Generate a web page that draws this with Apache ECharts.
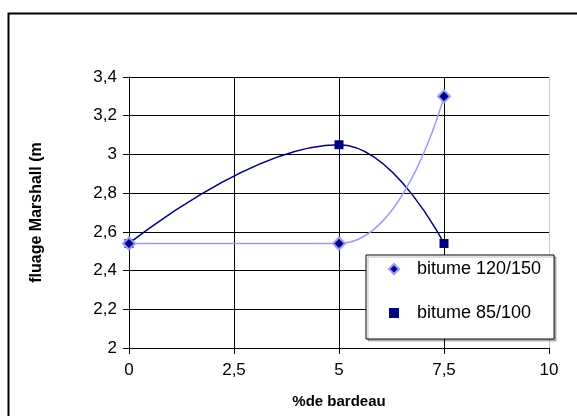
<!DOCTYPE html>
<html>
<head>
<meta charset="utf-8">
<script src="https://cdn.jsdelivr.net/npm/echarts@6/dist/echarts.min.js"></script>
<style>
  html, body { margin: 0; padding: 0; background: #fff; }
  #main { width: 577px; height: 416px; }
</style>
</head>
<body>
<div id="main"></div>
<script>
  // données
  var pctBardeau = [0, 5, 7.5];
  var bitume120 = [2.54, 2.54, 3.3];
  var bitume85 = [2.54, 3.05, 2.54];
  var xTicks = [0, 2.5, 5, 7.5, 10];
  var yTicks = [2, 2.2, 2.4, 2.6, 2.8, 3, 3.2, 3.4];

  function pairs(xs, ys) {
    return xs.map(function (x, i) { return [x, ys[i]]; });
  }
  function virgule(v) {
    return String(v).replace('.', ',');
  }

  var myChart = echarts.init(document.getElementById('main'));

  var option = {
    animation: false,
    backgroundColor: '#fff',
    textStyle: { fontFamily: 'Liberation Sans, Arial, sans-serif' },
    graphic: [
      // cadre de la zone du graphique
      {
        type: 'rect',
        shape: { x: 8.5, y: 13.5, width: 600, height: 500 },
        style: { fill: 'none', stroke: '#000', lineWidth: 2 },
        z: -1
      }
    ],
    grid: { left: 129, right: 28, top: 77, bottom: 68 },
    legend: {
      orient: 'vertical',
      left: 366,
      top: 255,
      padding: [5, 13, 17, 22],
      itemGap: 26,
      itemWidth: 10,
      itemHeight: 10,
      backgroundColor: '#fff',
      borderColor: '#000',
      borderWidth: 1,
      shadowColor: 'rgba(0,0,0,0.25)',
      shadowOffsetX: 2,
      shadowOffsetY: 2,
      textStyle: { fontSize: 18, color: '#000', padding: [0, 0, 0, 13] },
      data: [
        { name: 'bitume 120/150', icon: 'diamond' },
        { name: 'bitume 85/100', icon: 'rect' }
      ]
    },
    xAxis: {
      type: 'value',
      min: xTicks[0],
      max: xTicks[xTicks.length - 1],
      interval: 2.5,
      name: '%de bardeau',
      nameLocation: 'middle',
      nameGap: 46,
      nameTextStyle: { fontSize: 15, fontWeight: 'bold', color: '#000' },
      axisLine: { lineStyle: { color: '#000', width: 1 } },
      axisTick: { show: true, inside: false, length: 6, lineStyle: { color: '#000' } },
      axisLabel: { fontSize: 17, color: '#000', margin: 14, formatter: virgule },
      splitLine: { show: true, lineStyle: { color: ['#000', '#000', '#000', '#000', '#c8c8c8'], width: 1 } }
    },
    yAxis: {
      type: 'value',
      min: yTicks[0],
      max: yTicks[yTicks.length - 1],
      interval: 0.2,
      name: 'fluage Marshall (m',
      nameLocation: 'middle',
      nameGap: 84,
      nameTextStyle: { fontSize: 16, fontWeight: 'bold', color: '#000' },
      axisLine: { show: true, lineStyle: { color: '#000', width: 1 } },
      axisTick: { show: true, inside: false, length: 6, lineStyle: { color: '#000' } },
      axisLabel: { fontSize: 17, color: '#000', margin: 12, formatter: virgule },
      splitLine: { show: true, lineStyle: { color: '#000', width: 1 } }
    },
    series: [
      {
        name: 'bitume 85/100',
        type: 'line',
        smooth: 0.45,
        symbol: 'rect',
        symbolSize: 9,
        lineStyle: { color: '#000080', width: 1.5 },
        itemStyle: { color: '#000080' },
        data: pairs(pctBardeau, bitume85)
      },
      {
        name: 'bitume 120/150',
        type: 'line',
        smooth: 0.45,
        symbol: 'diamond',
        symbolSize: 12,
        lineStyle: { color: '#9999ff', width: 1.5 },
        itemStyle: { color: '#000080', borderColor: '#9999ff', borderWidth: 2 },
        data: pairs(pctBardeau, bitume120)
      }
    ]
  };

  myChart.setOption(option);
</script>
</body>
</html>
